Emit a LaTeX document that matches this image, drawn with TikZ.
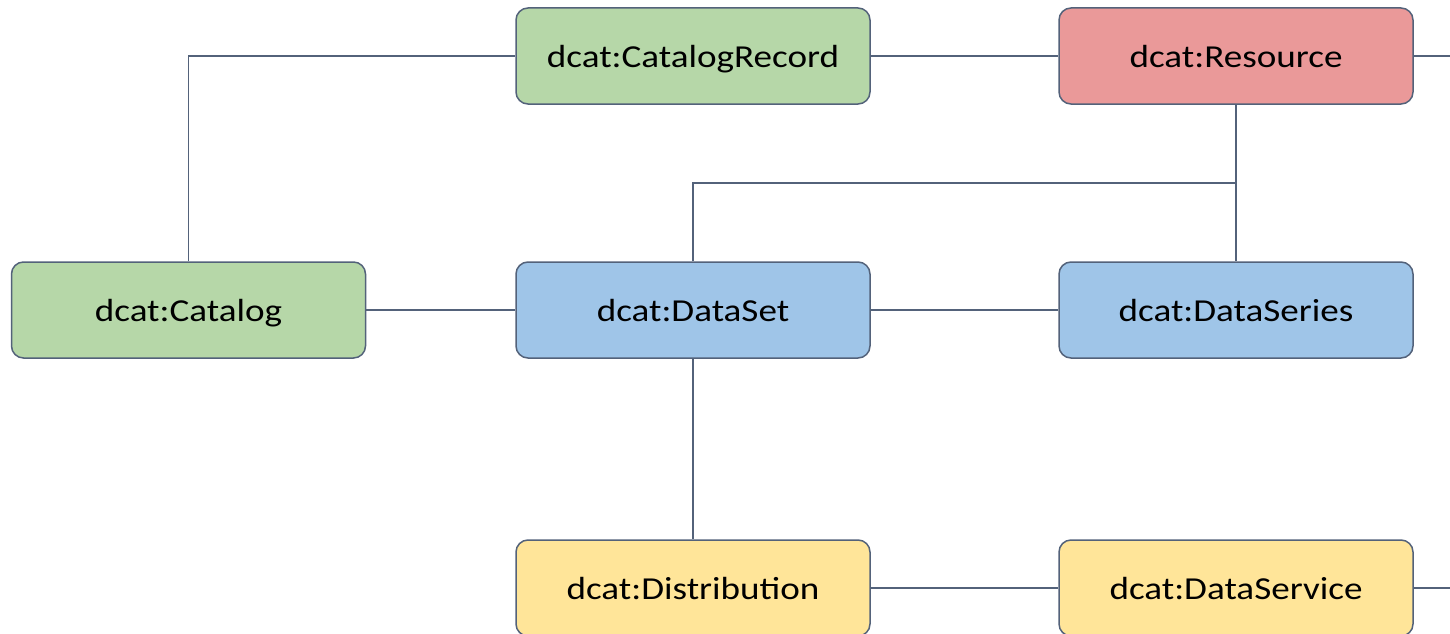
\documentclass[tikz,border=0pt]{standalone}
\usepackage{fontspec}
\setmainfont[FakeStretch=1.16]{Carlito}
\definecolor{edgec}{HTML}{53627A}
\definecolor{greenf}{HTML}{B6D7A8}
\definecolor{redf}{HTML}{EA9999}
\definecolor{bluef}{HTML}{9FC5E8}
\definecolor{yellowf}{HTML}{FFE599}
\tikzset{
  cls/.style={draw=edgec, line width=1.5pt, rounded corners=12pt, minimum width=354pt, minimum height=96pt, inner sep=0pt, text height=24pt, text depth=2pt, font=\fontsize{32}{38}\selectfont, text=black},
  conn/.style={draw=edgec, line width=1.5pt}
}
\begin{document}
\begin{tikzpicture}[x=1pt,y=-1pt]
\useasboundingbox (0,0) rectangle (1450,634);
\clip (0,0) rectangle (1450,634);
\fill[white] (0,0) rectangle (1450,634);
\node[cls, fill=greenf] (rec) at (693,56) {dcat:CatalogRecord};
\node[cls, fill=redf] (res) at (1236,56) {dcat:Resource};
\node[cls, fill=greenf] (cat) at (188.5,310) {dcat:Catalog};
\node[cls, fill=bluef] (ds) at (693,310) {dcat:DataSet};
\node[cls, fill=bluef] (ser) at (1236,310) {dcat:DataSeries};
\node[cls, fill=yellowf] (dist) at (693,588) {dcat:Distribution};
\node[cls, fill=yellowf] (svc) at (1236,588) {dcat:DataService};
\coordinate (e1) at (1452,56);
\coordinate (e2) at (1452,588);
\coordinate (j) at (1236,183);
\draw[conn] (cat.north) |- (rec.west);
\draw[conn] (rec.east) -- (res.west);
\draw[conn] (res.east) -- (e1);
\draw[conn] (res.south) -- (ser.north);
\draw[conn] (ds.north) |- (j);
\draw[conn] (cat.east) -- (ds.west);
\draw[conn] (ds.east) -- (ser.west);
\draw[conn] (ds.south) -- (dist.north);
\draw[conn] (dist.east) -- (svc.west);
\draw[conn] (svc.east) -- (e2);
\end{tikzpicture}
\end{document}
